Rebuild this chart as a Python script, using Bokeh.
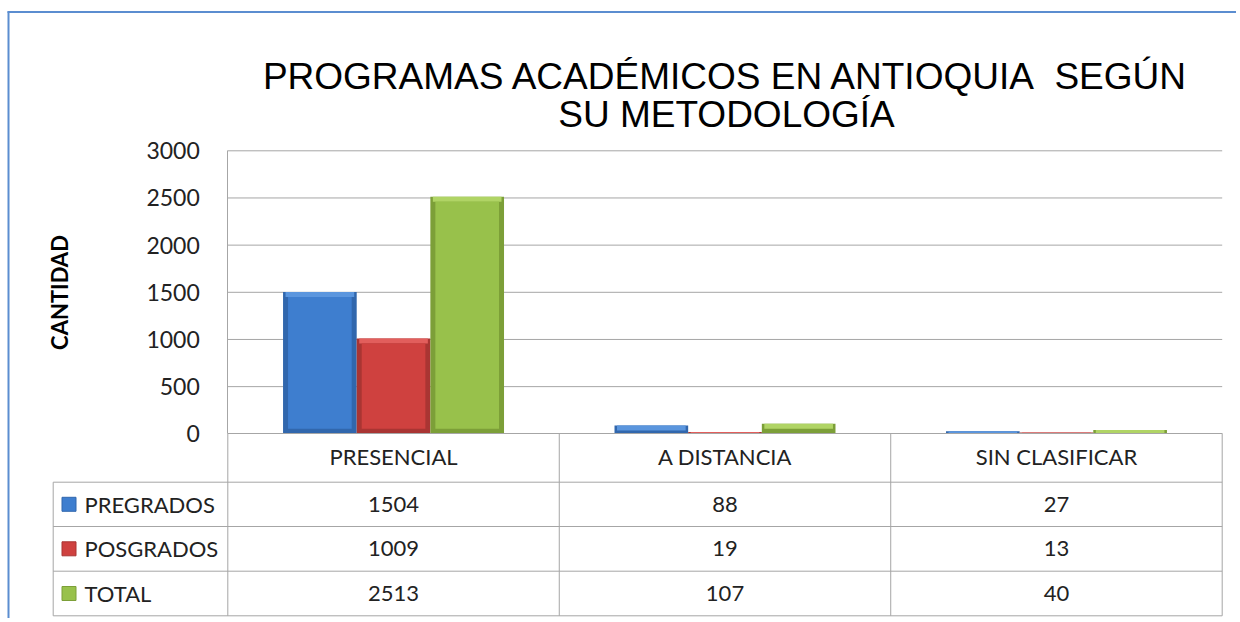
import math
from bokeh.plotting import figure
from bokeh.models import Range1d, FixedTicker
from bokeh.core.properties import value
from bokeh.embed import file_html
from bokeh.resources import INLINE

# ---------------- data ----------------
categories = ["PRESENCIAL", "A DISTANCIA", "SIN CLASIFICAR"]
series_names = ["PREGRADOS", "POSGRADOS", "TOTAL"]
pregrados = [1504, 88, 27]
posgrados = [1009, 19, 13]
total = [2513, 107, 40]
y_ticks = [0, 500, 1000, 1500, 2000, 2500, 3000]
title_lines = ["PROGRAMAS ACADÉMICOS EN ANTIOQUIA\u00a0 SEGÚN", "SU METODOLOGÍA"]
y_label = "CANTIDAD"

series_values = [pregrados, posgrados, total]

# ---------------- layout / style ----------------
W, H = 1236, 618
PX0, PY0 = 0, 0
PLOT_L, PLOT_R = 227.3, 1221.7
BASE_Y, TOP_Y = 433.3, 150.3
n = len(categories)
unit_x = (PLOT_R - PLOT_L) / n
unit_y = (BASE_Y - TOP_Y) / y_ticks[-1]

x_start = (PX0 - PLOT_L) / unit_x
x_end = (PX0 + W - PLOT_L) / unit_x
y_start = -(PY0 + H - BASE_Y) / unit_y
y_end = (BASE_Y - PY0) / unit_y

FILL = ["#3e7ecf", "#cf413f", "#98c14b"]
DARK = ["#3167ad", "#a93533", "#7c9f38"]
LIGHT = ["#5b96de", "#e25e5c", "#b0d465"]
GRID = "#a6a6a6"
TXT = "#222222"
FONT = "Lato"

# table geometry in page pixels
ROW_LINES = [481.7, 526.0, 570.7, 615.3]
ROW_C = [503.8, 548.3, 593.0]
LEG_L = 52.7

p = figure(width=W, height=H, output_backend="svg", toolbar_location=None,
           x_range=Range1d(x_start, x_end), y_range=Range1d(y_start, y_end),
           min_border=0, background_fill_color="white", border_fill_color="white")
p.extra_x_ranges = {"px": Range1d(PX0, PX0 + W)}
p.extra_y_ranges = {"py": Range1d(PY0 + H, PY0)}
p.outline_line_color = None
p.grid.visible = False

# y axis at x=0 (data)
ya = p.yaxis[0]
ya.fixed_location = 0
ya.ticker = FixedTicker(ticks=y_ticks)
ya.bounds = (0, y_ticks[-1])
ya.axis_line_color = GRID
ya.major_tick_line_color = None
ya.minor_tick_line_color = None
ya.major_label_standoff = 22
ya.major_label_text_font = FONT
ya.major_label_text_font_size = "23px"
ya.major_label_text_color = TXT

# x axis at y=0 (data) -> category header labels
xa = p.xaxis[0]
xa.fixed_location = 0
xa.ticker = FixedTicker(ticks=[i + 0.5 for i in range(n)])
xa.major_label_overrides = {i + 0.5: c for i, c in enumerate(categories)}
xa.bounds = (0, n)
xa.axis_line_color = GRID
xa.major_tick_line_color = None
xa.minor_tick_line_color = None
xa.major_label_standoff = 3
xa.major_label_text_font = FONT
xa.major_label_text_font_size = "22px"
xa.major_label_text_color = TXT

# grid lines
gt = y_ticks[1:]
p.segment(x0=[0] * len(gt), x1=[n] * len(gt), y0=gt, y1=gt, line_color=GRID, line_width=1)

# bars with a simple bevel look
bw = (2 / 3) / len(series_values)
bev = 5 / unit_y          # bevel depth (vertical, data units)
bev_x = 5 / unit_x        # bevel depth (horizontal, data units)
for k, vals in enumerate(series_values):
    off = (k - (len(series_values) - 1) / 2) * bw
    xs = [i + 0.5 + off for i in range(n)]
    p.vbar(x=xs, top=vals, bottom=0, width=bw, fill_color=DARK[k], line_color=None)
    p.vbar(x=xs, top=vals, bottom=[max(v - bev, 0) for v in vals], width=bw - bev_x,
           fill_color=LIGHT[k], line_color=None)
    p.vbar(x=xs, top=[max(v - bev, bev) for v in vals], bottom=bev, width=bw - 2 * bev_x,
           fill_color=FILL[k], line_color=None)

# table lines
p.segment(x0=list(range(n + 1)), x1=list(range(n + 1)),
          y0=[BASE_Y] * (n + 1), y1=[ROW_LINES[-1]] * (n + 1),
          y_range_name="py", line_color=GRID, line_width=1)
p.segment(x0=[LEG_L], x1=[LEG_L], y0=[ROW_LINES[0]], y1=[ROW_LINES[-1]],
          x_range_name="px", y_range_name="py", line_color=GRID, line_width=1)
p.segment(x0=[LEG_L] * len(ROW_LINES), x1=[PLOT_R] * len(ROW_LINES),
          y0=ROW_LINES, y1=ROW_LINES,
          x_range_name="px", y_range_name="py", line_color=GRID, line_width=1)

# table values
for k, vals in enumerate(series_values):
    p.text(x=[i + 0.5 for i in range(n)], y=[ROW_C[k]] * n, text=[str(v) for v in vals],
           y_range_name="py", text_align="center", text_baseline="middle",
           text_font=value(FONT), text_font_size="22px", text_color=TXT)

# legend keys + names
p.scatter(x=[68.5] * 3, y=ROW_C, marker="square", size=14,
          fill_color=FILL, line_color=DARK, x_range_name="px", y_range_name="py")
p.text(x=[84] * 3, y=ROW_C, text=series_names, x_range_name="px", y_range_name="py",
       text_align="left", text_baseline="middle",
       text_font=value(FONT), text_font_size="22px", text_color=TXT)

# title
p.text(x=[726] * 2, y=[76, 114], text=title_lines, x_range_name="px", y_range_name="py",
       text_align="center", text_baseline="middle",
       text_font=value("Liberation Sans"), text_font_size="37px", text_color="black")

# y label
p.text(x=[59], y=[292], text=[y_label], angle=math.pi / 2,
       x_range_name="px", y_range_name="py", text_align="center", text_baseline="middle",
       text_font=value(FONT), text_font_size="22px", text_font_style="bold", text_color="black")

# chart border (top & left)
p.segment(x0=[7, 8], x1=[W + 10, 8], y0=[11.5, 11], y1=[11.5, H + 10],
          x_range_name="px", y_range_name="py", line_color="#5b8dd0", line_width=2)

open("out.html", "w").write(file_html(p, INLINE))
